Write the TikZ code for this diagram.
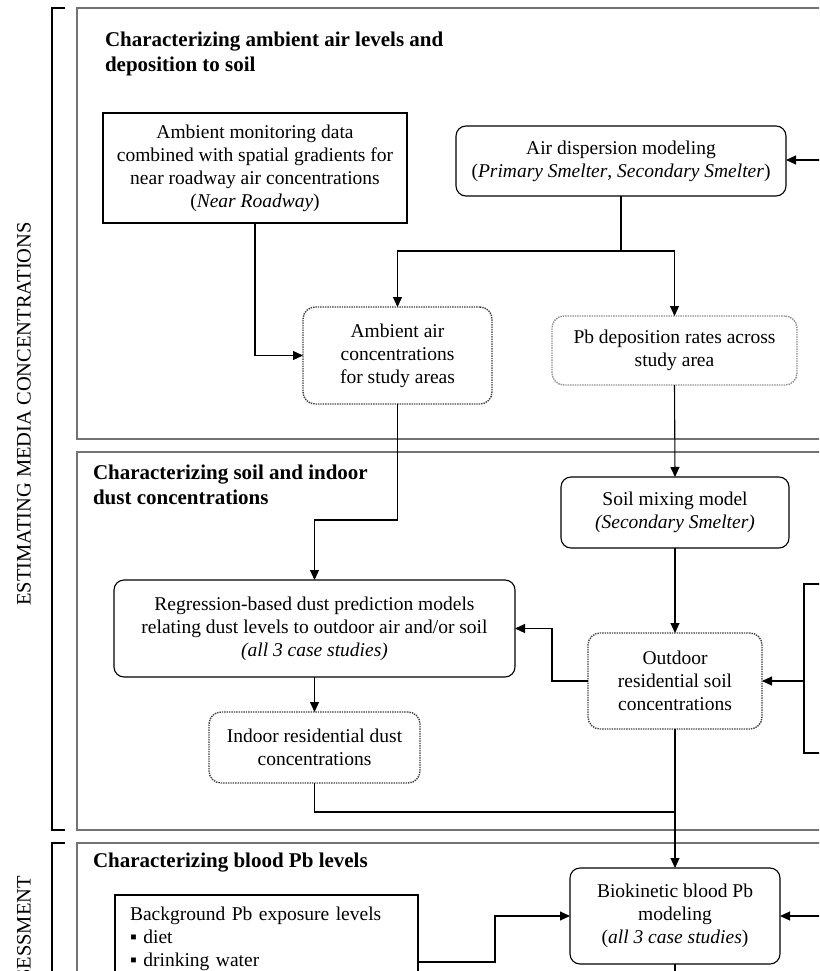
\documentclass[tikz,border=0pt]{standalone}
\usepackage{fontspec}
\setmainfont{Liberation Serif}
\usetikzlibrary{arrows.meta}

\begin{document}
\begin{tikzpicture}[x=1pt,y=-1pt,
  every node/.style={inner sep=0pt, outer sep=0pt},
  txt/.style={font=\fontsize{19.5}{23}\selectfont, align=center, text=black},
  ttl/.style={font=\fontsize{21}{25}\selectfont\bfseries, align=left, anchor=north west},
  side/.style={font=\fontsize{20.5}{24}\selectfont, rotate=90},
  sq/.style={txt, draw=black, line width=1.1pt},
  rnd/.style={txt, draw=black, line width=1.1pt, rounded corners=10pt},
  dotbox/.style={txt, draw=black!75, line width=1.4pt, densely dotted, rounded corners=12pt},
  dotlight/.style={dotbox, draw=black!45},
  link/.style={line width=1.1pt, black},
  arr/.style={link, -{Triangle[length=10pt,width=9pt]}},
  panel/.style={draw=black!55, line width=1.1pt},
  brk/.style={line width=1.4pt, black}
]
\useasboundingbox (0,0) rectangle (819,971);
\clip (0,0) rectangle (819,971);
\fill[white] (0,0) rectangle (819,971);

% section panels
\draw[panel] (77,8) rectangle (900,439);
\draw[panel] (77,452) rectangle (900,830);
\draw[panel] (77,843) rectangle (900,1010);

% brackets on the left
\draw[brk] (65,8) -- (52,8) -- (52,830) -- (65,830);
\draw[brk] (65,843) -- (52,843) -- (52,1010);

% side labels
\node[side] (lblmedia) at (24,414) {ESTIMATING MEDIA CONCENTRATIONS};
\node[side, anchor=east] (lblassess) at (24,876) {ASSESSMENT};

% panel titles
\node[ttl] (t1) at (105,32) {Characterizing ambient air levels and\\deposition to soil};
\node[ttl] (t2) at (93,465) {Characterizing soil and indoor\\dust concentrations};
\node[ttl] (t3) at (93,853) {Characterizing blood Pb levels};

% boxes
\node[sq, minimum width=304pt, minimum height=110pt] (mon) at (255,168)
  {Ambient monitoring data\\combined with spatial gradients for\\near roadway air concentrations\\(\textit{Near Roadway})};
\node[rnd, minimum width=330pt, minimum height=70pt] (disp) at (621,161)
  {Air dispersion modeling\\(\textit{Primary Smelter}, \textit{Secondary Smelter})};
\node[dotbox, minimum width=189pt, minimum height=97pt] (amb) at (397.5,355.5)
  {Ambient air\\concentrations\\for study areas};
\node[dotlight, minimum width=245pt, minimum height=69pt] (dep) at (674.5,350.5)
  {Pb deposition rates across\\study area};
\node[rnd, minimum width=228pt, minimum height=71pt] (mix) at (675,512.5)
  {Soil mixing model\\\textit{(Secondary Smelter)}};
\node[rnd, minimum width=401pt, minimum height=97pt] (reg) at (314.5,628.5)
  {Regression-based dust prediction models\\relating dust levels to outdoor air and/or soil\\\textit{(all 3 case studies)}};
\node[dotbox, minimum width=174pt, minimum height=96pt] (soil) at (675,681)
  {Outdoor\\residential soil\\concentrations};
\node[dotbox, minimum width=211pt, minimum height=71pt] (dust) at (314.5,747.5)
  {Indoor residential dust\\concentrations};
\node[rnd, minimum width=210pt, minimum height=96pt] (bio) at (675,916)
  {Biokinetic blood Pb\\modeling\\(\textit{all 3 case studies})};
\node[sq, anchor=north west, text width=273pt, inner xsep=15pt, inner ysep=12pt,
  align=left] (bg) at (115,895)
  {Background Pb exposure levels\\▪ diet\\▪ drinking water};
\node[sq, anchor=north west, minimum width=120pt, minimum height=169pt] (rbox) at (804,584) {};

% incoming links from the right
\coordinate (inDisp) at (840,160);
\coordinate (inBio) at (840,916);
\coordinate (split) at (621,251);
\coordinate (outBio) at (675,1000);

% connectors
\draw[arr] (inDisp) -- (disp.east |- inDisp);
\draw[link] (disp.south) -- (split);
\draw[arr] (split) -| (amb.north);
\draw[arr] (split) -| (dep.north);
\draw[arr] (mon.south) |- (amb.west);
\draw[arr] (dep.south) -- (mix.north);
\draw[arr] (amb.south) -- ++(0,116) -| (reg.north);
\draw[arr] (mix.south) -- (soil.north);
\draw[arr] (soil.west) -- ++(-36,0) |- (reg.east);
\draw[arr] (rbox.west |- soil.east) -- (soil.east);
\draw[arr] (reg.south) -- (dust.north);
\draw[link] (dust.south) |- (soil.south |- 0,812);
\draw[arr] (soil.south) -- (bio.north);
\draw[arr] (bg.east |- 0,962) -- (495,962) |- (bio.west);
\draw[arr] (inBio) -- (bio.east);
\draw[link] (bio.south) -- (outBio);
\end{tikzpicture}
\end{document}
